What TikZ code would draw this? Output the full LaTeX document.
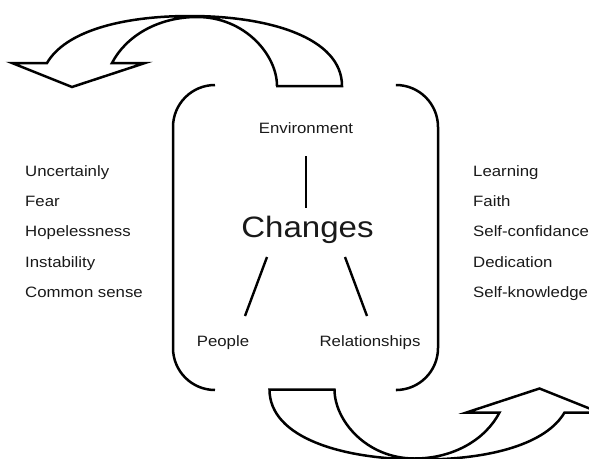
\documentclass[tikz,border=0pt]{standalone}
\usepackage{fontspec}
\setmainfont{Liberation Sans}[FakeStretch=1.12]
\begin{document}
\begin{tikzpicture}[x=1pt,y=-1pt,
  outline/.style={line width=2.5pt,line join=miter},
  bracket/.style={line width=2.5pt,rounded corners=42pt},
  link/.style={line width=2.4pt},
  word/.style={inner sep=0pt,text=black!90,font=\fontsize{15}{18}\selectfont},
  side/.style={word,anchor=base west},
  hub/.style={inner sep=0pt,anchor=base,text=black!90,font=\fontsize{29.5}{34}\selectfont}]
\clip (0,0) rectangle (589,458);
\useasboundingbox (0,0) rectangle (589,458);

% curved arrow, drawn once on top and once turned half round at the bottom
\def\curvedarrow{%
  \draw[outline] (276,86) -- (342,86)
    .. controls (342,38) and (270,16) .. (190,16)
    .. controls (120,16) and (65,32) .. (47,63)
    -- (12,63) -- (72,87) -- (145,63) -- (112,63)
    .. controls (126,36) and (158,17) .. (197,17)
    .. controls (245,17) and (277,55) .. (277,86) -- cycle;}
\curvedarrow
\begin{scope}[rotate around={180:(305.75,237.75)}]
  \curvedarrow
\end{scope}

% open rounded frame
\draw[bracket] (215,85) -- (173,85) -- (173,390) -- (215,390);
\draw[bracket] (397,85) -- (438,85) -- (438,390) -- (397,390);

% central labels
\node[word,anchor=base] (env) at (306,133) {Environment};
\node[hub] (chg) at (307.5,237) {Changes};
\node[word,anchor=base] (ppl) at (223,346) {People};
\node[word,anchor=base] (rel) at (370,346) {Relationships};

\coordinate (envlow) at (306,156);
\coordinate (chgtop) at (306,208);
\coordinate (chgl) at (267,257);
\coordinate (pplup) at (245,316);
\coordinate (chgr) at (345,257);
\coordinate (relup) at (367,316);
\draw[link] (envlow) -- (chgtop);
\draw[link] (chgl) -- (pplup);
\draw[link] (chgr) -- (relup);

% left column
\node[side] (l1) at (25,176) {Uncertainly};
\node[side] (l2) at (25,206) {Fear};
\node[side] (l3) at (25,236) {Hopelessness};
\node[side] (l4) at (25,267) {Instability};
\node[side] (l5) at (25,297) {Common sense};

% right column
\node[side] (r1) at (473,176) {Learning};
\node[side] (r2) at (473,206) {Faith};
\node[side] (r3) at (473,236) {Self-confidance};
\node[side] (r4) at (473,267) {Dedication};
\node[side] (r5) at (473,297) {Self-knowledge};
\end{tikzpicture}
\end{document}
